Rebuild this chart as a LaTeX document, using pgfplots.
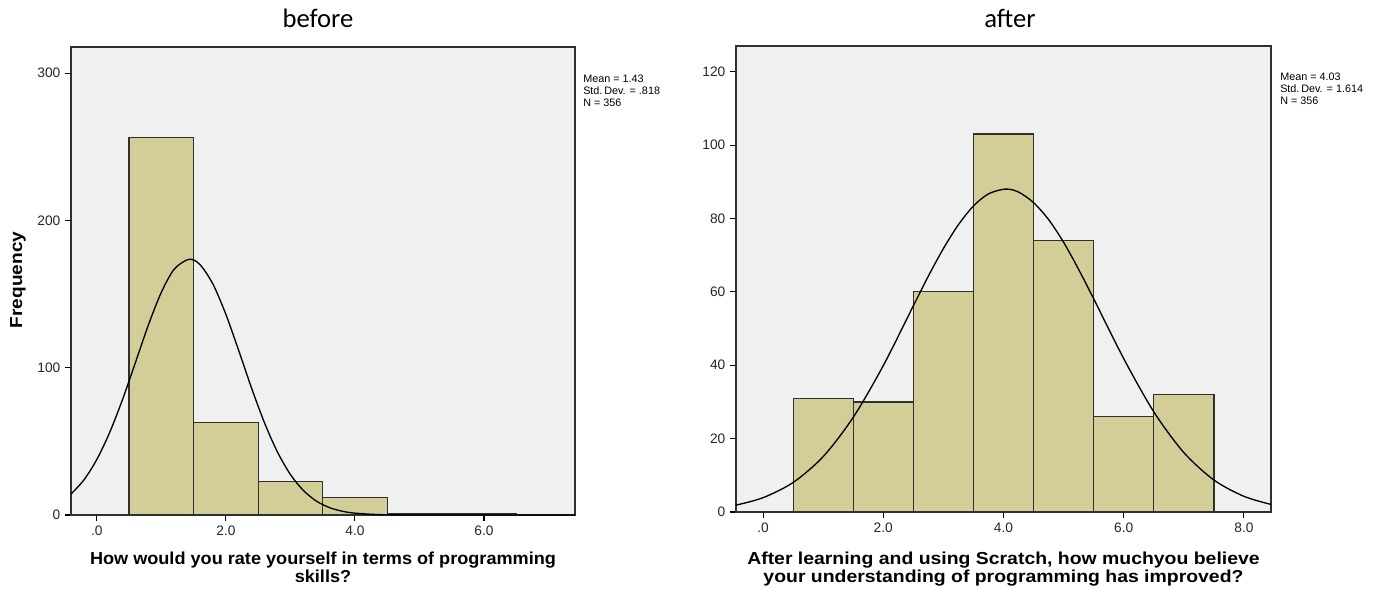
\documentclass[border=0pt]{standalone}
\usepackage{pgfplots}
\pgfplotsset{compat=1.18}
\usepackage{fontspec}
\setmainfont{Liberation Sans}
\newfontfamily\titlefont{Carlito}
\definecolor{barc}{HTML}{D3CE98}
\definecolor{bgc}{HTML}{F0F0F0}
\definecolor{edgec}{HTML}{303030}
\begin{document}
\begin{tikzpicture}
\useasboundingbox (0,0) rectangle (1045.5pt,441.75pt);
\pgfplotsset{
  hist/.style={
    scale only axis,
    anchor=south west,
    axis background/.style={fill=bgc},
    axis line style={edgec, line width=1pt},
    tick align=outside,
    tick pos=left,
    major tick length=4.5pt,
    tick style={black, line width=0.8pt},
    tick label style={font=\fontsize{10.3}{11}\selectfont, text=black!85},
    clip=true,
  }
}
% ---------- before ----------
\begin{axis}[hist,
  at={(53.25pt,55.5pt)}, width=378pt, height=351pt,
  xmin=-0.40, xmax=7.41, ymin=0, ymax=317.7,
  xtick={0,2,4,6}, xticklabels={.0,2.0,4.0,6.0},
  ytick={0,100,200,300}, yticklabels={0,100,200,300},
]
\addplot[ybar interval, fill=barc, draw=edgec, line width=0.9pt]
  coordinates {(0.5,256)(1.5,63)(2.5,23)(3.5,12)(4.5,1)(5.5,1)(6.5,1)};
\addplot[smooth, black, line width=1pt] coordinates {
(-0.4,14.2)(-0.2,23.8)(0,37.7)(0.2,56.1)(0.4,78.6)(0.6,103.7)(0.8,129.1)
(1.0,151.2)(1.2,166.9)(1.43,173.6)(1.6,169.9)(1.8,156.7)(2.0,136.2)
(2.2,111.5)(2.4,85.9)(2.6,62.4)(2.8,42.7)(3.0,27.5)(3.2,16.7)(3.4,9.5)
(3.6,5.1)(3.8,2.6)(4.0,1.25)(4.4,0.24)(5.0,0.0)(6.0,0)(7.41,0)};
\end{axis}
% ---------- after ----------
\begin{axis}[hist,
  at={(552pt,57.75pt)}, width=401.25pt, height=349.5pt,
  xmin=-0.45, xmax=8.45, ymin=0, ymax=127.0,
  xtick={0,2,4,6,8}, xticklabels={.0,2.0,4.0,6.0,8.0},
  ytick={0,20,40,60,80,100,120}, yticklabels={0,20,40,60,80,100,120},
]
\addplot[ybar interval, fill=barc, draw=edgec, line width=0.9pt]
  coordinates {(0.5,31)(1.5,30)(2.5,60)(3.5,103)(4.5,74)(5.5,26)(6.5,32)(7.5,32)};
\addplot[smooth, black, line width=1pt] coordinates {
(-0.45,1.87)(0,3.90)(0.5,8.05)(1.0,15.1)(1.5,25.8)(2.0,39.9)(2.5,56.2)
(2.75,64.3)(3.0,71.8)(3.25,78.3)(3.5,83.4)(3.75,86.7)(4.03,88.0)(4.25,87.2)
(4.5,84.3)(4.75,79.7)(5.0,73.5)(5.25,66.1)(5.5,58.1)(6.0,41.8)(6.5,27.3)
(7.0,16.2)(7.5,8.72)(8.0,4.27)(8.45,2.07)};
\end{axis}
% ---------- texts ----------
\node[font=\titlefont\fontsize{20}{22}\selectfont] at (238.5pt,428.25pt) {before};
\node[font=\titlefont\fontsize{20}{22}\selectfont] at (757.5pt,428.25pt) {after};
\node[anchor=north west, align=left, inner sep=0pt, font=\fontsize{8.1}{9}\selectfont]
  at (437.25pt,385.5pt) {Mean = 1.43\\Std.\,Dev. = .818\\N = 356};
\node[anchor=north west, align=left, inner sep=0pt, font=\fontsize{8.1}{9}\selectfont]
  at (960pt,387pt) {Mean = 4.03\\Std.\,Dev. = 1.614\\N = 356};
\node[rotate=90, inner sep=0pt] at (13.5pt,231.75pt)
  {\scalebox{1.1}[1]{\bfseries\fontsize{13}{14}\selectfont Frequency}};
\node[anchor=north, inner sep=0pt, align=center, transform shape, xscale=1.045,
  font=\bfseries\fontsize{13}{13.5}\selectfont] at (242.25pt,28pt)
  {How would you rate yourself in terms of programming\\skills?};
\node[anchor=north, inner sep=0pt, align=center, transform shape, xscale=1.12,
  font=\bfseries\fontsize{13}{11.5}\selectfont] at (752.6pt,28pt)
  {After learning and using Scratch, how muchyou believe\\your understanding of programming has improved?};
\end{tikzpicture}
\end{document}
